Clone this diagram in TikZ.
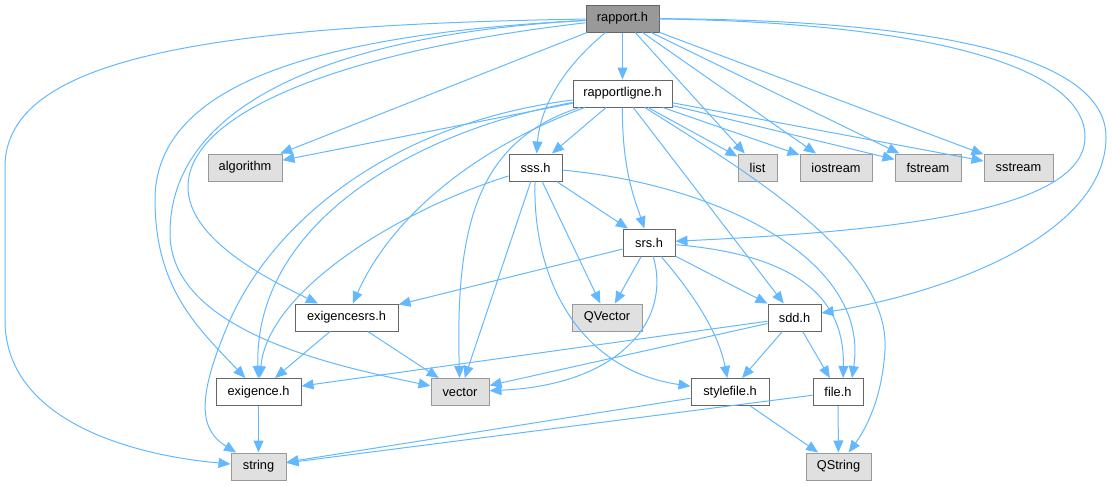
\documentclass[tikz,border=0pt]{standalone}
\usepackage{fontspec}
\setmainfont{Liberation Sans}
\usetikzlibrary{arrows.meta}
\definecolor{edgec}{HTML}{63B8FF}
\definecolor{bordc}{HTML}{666666}
\definecolor{gbord}{HTML}{999999}
\definecolor{gfill}{HTML}{E0E0E0}
\definecolor{rfill}{HTML}{999999}
\begin{document}
\begin{tikzpicture}[x=1pt,y=-1pt,
  nbox/.style={rectangle, draw=bordc, fill=white, line width=1pt, minimum height=27pt, inner sep=0pt, font=\fontsize{12.8}{14}\selectfont},
  sysbox/.style={nbox, draw=gbord, fill=gfill},
  rootbox/.style={nbox, fill=rfill},
  dep/.style={draw=edgec, line width=1pt, -{Triangle[length=12pt,width=10pt]}}
]
\useasboundingbox (0,0) rectangle (1112,485);
\node[rootbox, minimum width=73pt] (rapport) at (622.5,18.5) {rapport.h};
\node[nbox, minimum width=99pt] (rl) at (622.5,93.5) {rapportligne.h};
\node[nbox, minimum width=53pt] (sss) at (535.5,167.5) {sss.h};
\node[sysbox, minimum width=74pt] (algo) at (245,167.5) {algorithm};
\node[sysbox, minimum width=39pt] (list) at (757.5,167.5) {list};
\node[sysbox, minimum width=72pt] (iostream) at (836,167.5) {iostream};
\node[sysbox, minimum width=66pt] (fstream) at (928,167.5) {fstream};
\node[sysbox, minimum width=69pt] (sstream) at (1018.5,167.5) {sstream};
\node[nbox, minimum width=52pt] (srs) at (649,242.5) {srs.h};
\node[nbox, minimum width=103pt] (exsrs) at (346.5,317.5) {exigencesrs.h};
\node[sysbox, minimum width=70pt] (qvector) at (607,317.5) {QVector};
\node[nbox, minimum width=53pt] (sdd) at (794.5,317.5) {sdd.h};
\node[nbox, minimum width=85pt] (ex) at (258.5,392) {exigence.h};
\node[sysbox, minimum width=58pt] (vector) at (460,392) {vector};
\node[nbox, minimum width=78pt] (style) at (730,392) {stylefile.h};
\node[nbox, minimum width=50pt] (file) at (838,392) {file.h};
\node[sysbox, minimum width=55pt] (string) at (258.5,466.5) {string};
\node[sysbox, minimum width=65pt] (qstring) at (838.5,466.5) {QString};

% rapport.h
\draw[dep] (rapport) -- (rl);
\draw[dep] (rapport) .. controls (560,70) and (540,110) .. (sss);
\draw[dep] (rapport) -- (list);
\draw[dep] (rapport) -- (iostream);
\draw[dep] (rapport) -- (fstream);
\draw[dep] (rapport) -- (sstream);
\draw[dep] (rapport) -- (algo);
\draw[dep] (rapport) .. controls (900,22) and (1085,60) .. (1085,137) .. controls (1085,215) and (870,232) .. (srs);
\draw[dep] (rapport) .. controls (950,20) and (1106,60) .. (1106,137) .. controls (1106,230) and (960,290) .. (sdd);
\draw[dep] (rapport) .. controls (200,25) and (5,60) .. (5,167) -- (5,320) .. controls (5,420) and (130,455) .. (string);
\draw[dep] (rapport) .. controls (300,35) and (155,90) .. (155,200) .. controls (155,290) and (200,330) .. (ex);
\draw[dep] (rapport) .. controls (320,35) and (170,110) .. (170,233) .. controls (170,330) and (330,365) .. (vector);
\draw[dep] (rapport) .. controls (350,50) and (188,110) .. (188,187) .. controls (188,240) and (270,280) .. (exsrs);
% rapportligne.h
\draw[dep] (rl) -- (sss);
\draw[dep] (rl) -- (list);
\draw[dep] (rl) -- (iostream);
\draw[dep] (rl) -- (fstream);
\draw[dep] (rl) -- (sstream);
\draw[dep] (rl) -- (algo);
\draw[dep] (rl) .. controls (622,170) and (635,200) .. (srs);
\draw[dep] (rl) -- (sdd);
\draw[dep] (rl) .. controls (470,150) and (390,220) .. (exsrs);
\draw[dep] (rl) .. controls (420,130) and (254,220) .. (ex);
\draw[dep] (rl) .. controls (480,140) and (455,220) .. (vector);
\draw[dep] (rl) .. controls (380,125) and (270,230) .. (230,320) .. controls (195,400) and (200,430) .. (string);
\draw[dep] (rl) .. controls (760,180) and (890,260) .. (885,350) .. controls (882,400) and (865,430) .. (qstring);
% sss.h
\draw[dep] (sss) -- (srs);
\draw[dep] (sss) .. controls (400,210) and (268,290) .. (ex);
\draw[dep] (sss) -- (vector);
\draw[dep] (sss) -- (qvector);
\draw[dep] (sss) .. controls (532,280) and (580,370) .. (style);
\draw[dep] (sss) .. controls (720,185) and (870,260) .. (file.45);
% srs.h
\draw[dep] (srs) -- (exsrs);
\draw[dep] (srs) -- (qvector);
\draw[dep] (srs) -- (sdd);
\draw[dep] (srs) .. controls (672,320) and (620,385) .. (vector);
\draw[dep] (srs) .. controls (690,290) and (718,330) .. (style);
\draw[dep] (srs) .. controls (800,255) and (845,300) .. (file.70);
% exigencesrs.h
\draw[dep] (exsrs) -- (ex);
\draw[dep] (exsrs) -- (vector);
% sdd.h
\draw[dep] (sdd) -- (ex);
\draw[dep] (sdd) -- (vector);
\draw[dep] (sdd) -- (style);
\draw[dep] (sdd) -- (file);
% leaves
\draw[dep] (ex) -- (string);
\draw[dep] (style) -- (string);
\draw[dep] (file) -- (string);
\draw[dep] (style) -- (qstring);
\draw[dep] (file) -- (qstring);
\end{tikzpicture}
\end{document}
